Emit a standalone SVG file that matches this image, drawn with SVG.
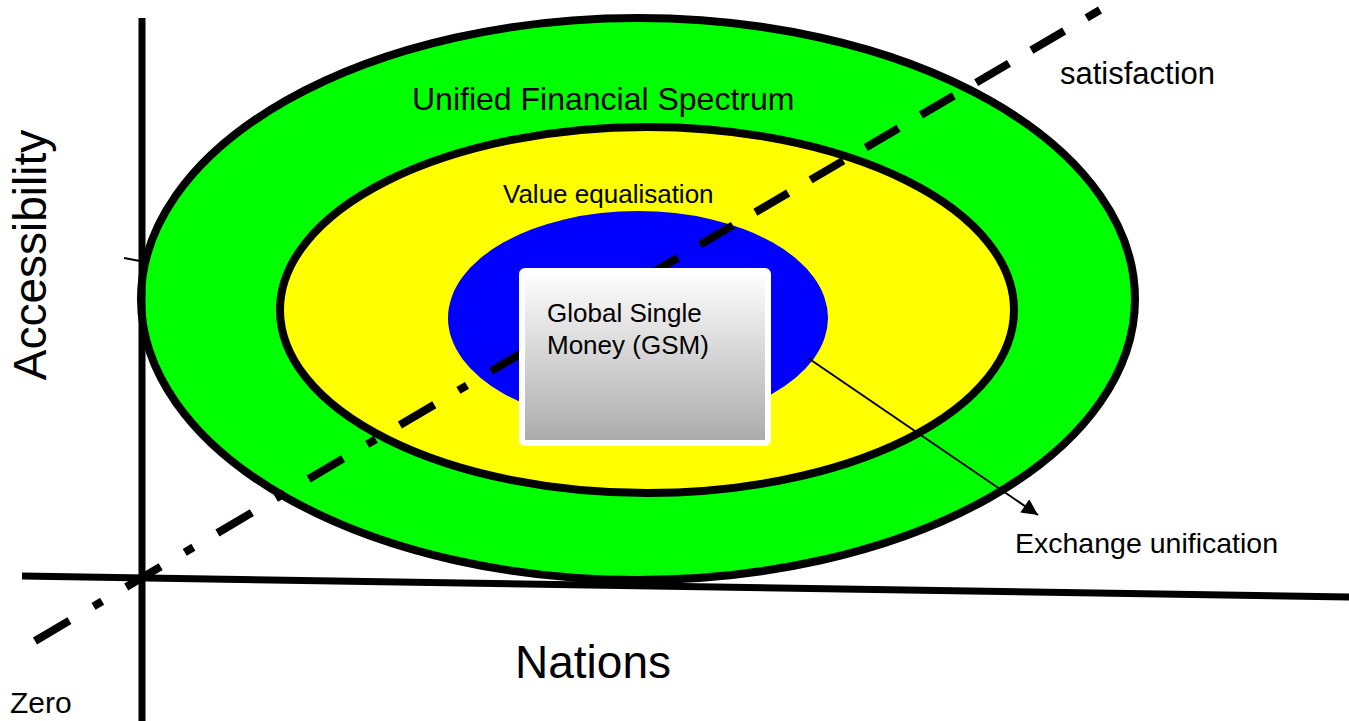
<svg xmlns="http://www.w3.org/2000/svg" width="1349" height="721" viewBox="0 0 1349 721">
<style>
text{font-family:"Liberation Sans",Arial,sans-serif;fill:#000}
.ring{stroke:#000;stroke-width:8}
.axis{stroke:#000;stroke-width:7;fill:none}
</style>
<defs>
<linearGradient id="gsm" x1="0" y1="0" x2="0" y2="1">
<stop offset="0" stop-color="#ffffff"/>
<stop offset="1" stop-color="#aaaaaa"/>
</linearGradient>
<marker id="arrb" viewBox="0 0 10 10" refX="10" refY="5" markerWidth="20" markerHeight="16" markerUnits="userSpaceOnUse" orient="auto">
<path d="M0,0 L10,5 L0,10 z" fill="#000"/>
</marker>
</defs>
<rect width="1349" height="721" fill="#fff"/>
<g id="spectrum">
<ellipse class="ring" cx="638" cy="299" rx="497" ry="281" fill="#00ff00"/>
<text x="412" y="110" font-size="32">Unified Financial Spectrum</text>
</g>
<g id="value">
<ellipse class="ring" cx="647" cy="310" rx="367" ry="183" fill="#ffff00"/>
<text x="503" y="203" font-size="26">Value equalisation</text>
</g>
<g id="blue">
<ellipse cx="638" cy="318" rx="190" ry="107" fill="#0000ff"/>
</g>
<g id="connectors">
<line x1="35" y1="641" x2="645" y2="280" stroke="#000" stroke-width="8" stroke-dasharray="40 28 10 28"/>
<line x1="645" y1="277" x2="1100" y2="10" stroke="#000" stroke-width="8" stroke-dasharray="38 26"/>
<line x1="808" y1="358" x2="1038" y2="515" stroke="#000" stroke-width="2" marker-end="url(#arrb)"/>
</g>
<g id="gsm-box">
<rect x="522" y="271" width="246" height="172" rx="3" fill="url(#gsm)" stroke="#fff" stroke-width="6"/>
<text x="547" y="322" font-size="26">Global Single</text>
<text x="547" y="354" font-size="26">Money (GSM)</text>
</g>
<g id="axes">
<line class="axis" x1="142" y1="18" x2="142" y2="721"/>
<line class="axis" x1="22" y1="576" x2="1349" y2="597"/>
<line x1="124" y1="258" x2="140" y2="261" stroke="#000" stroke-width="2"/>
</g>
<g id="labels">
<text x="1060" y="84" font-size="31">satisfaction</text>
<text x="1015" y="553" font-size="28.5">Exchange unification</text>
<text x="515" y="678" font-size="46">Nations</text>
<text transform="translate(46,255) rotate(-90)" text-anchor="middle" font-size="46">Accessibility</text>
<text x="10" y="713" font-size="30">Zero</text>
</g>
</svg>
